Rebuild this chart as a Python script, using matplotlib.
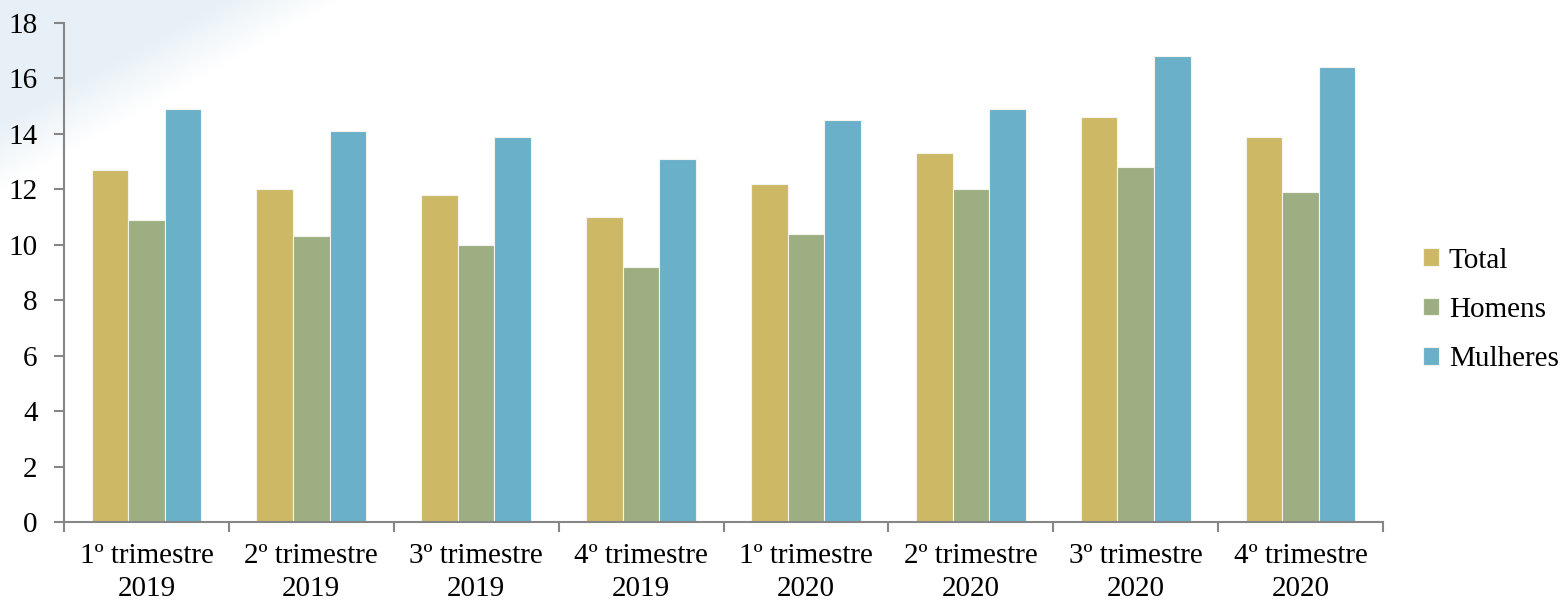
import numpy as np
import matplotlib
matplotlib.use("Agg")
import matplotlib.pyplot as plt

categories = ["1º trimestre\n2019", "2º trimestre\n2019", "3º trimestre\n2019", "4º trimestre\n2019",
              "1º trimestre\n2020", "2º trimestre\n2020", "3º trimestre\n2020", "4º trimestre\n2020"]
series_names = ["Total", "Homens", "Mulheres"]
total = [12.7, 12.0, 11.8, 11.0, 12.2, 13.3, 14.6, 13.9]
homens = [10.9, 10.3, 10.0, 9.2, 10.4, 12.0, 12.8, 11.9]
mulheres = [14.9, 14.1, 13.9, 13.1, 14.5, 14.9, 16.8, 16.4]
colors = ["#CDB866", "#9DAF82", "#6BB0C9"]

plt.rcParams['font.family'] = ['Liberation Serif', 'DejaVu Serif']

W, H = 1562, 603
fig = plt.figure(figsize=(W / 100, H / 100), dpi=100)
fig.patch.set_facecolor("white")

# faint decorative swoosh in the top-left corner (background only)
bg = fig.add_axes([0, 0, 1, 1], zorder=-10)
bg.set_axis_off()
yy, xx = np.mgrid[0:H, 0:W]
d = xx / 340.0 + yy / 190.0
alpha = np.clip((1.0 - d) / 0.35, 0, 1) * 0.7
img = np.zeros((H, W, 4))
img[..., 0] = 0xDD / 255
img[..., 1] = 0xEA / 255
img[..., 2] = 0xF3 / 255
img[..., 3] = alpha
bg.imshow(img, extent=[0, W, H, 0], aspect='auto', interpolation='bilinear')
bg.set_xlim(0, W)
bg.set_ylim(H, 0)

ax = fig.add_axes([64 / W, 81 / H, (1383 - 64) / W, (522 - 23) / H])
ax.patch.set_alpha(0)

n = len(categories)
x = np.arange(n)
w = 0.222
for i, (vals, name) in enumerate(zip([total, homens, mulheres], series_names)):
    ax.bar(x + (i - 1) * w, vals, width=w, color=colors[i], label=name,
           edgecolor="#f4f4ee", linewidth=0.8, zorder=2)

ax.set_xlim(-0.5, n - 0.5)
ax.set_ylim(0, 18)
ax.set_yticks(np.arange(0, 19, 2))
ax.set_xticks(np.arange(-0.5, n, 1.0))
ax.set_xticklabels([])
ax.set_xticks(x, minor=True)
ax.set_xticklabels(categories, minor=True, fontsize=21, linespacing=1.38)
ax.tick_params(axis='x', which='minor', length=0, pad=15)
ax.tick_params(axis='x', which='major', length=7, width=1.5, color="#868686", direction='out')
ax.tick_params(axis='y', length=7, width=1.5, color="#868686", direction='out', labelsize=21, pad=12)

for s in ["top", "right"]:
    ax.spines[s].set_visible(False)
for s in ["left", "bottom"]:
    ax.spines[s].set_color("#868686")
    ax.spines[s].set_linewidth(1.5)

leg = ax.legend(loc="center left", bbox_to_anchor=(1.030, 0.425), frameon=False, fontsize=21,
                handlelength=0.55, handleheight=0.55, handletextpad=0.35, labelspacing=0.8,
                borderpad=0, borderaxespad=0)

fig.savefig("out.png", dpi=100)
